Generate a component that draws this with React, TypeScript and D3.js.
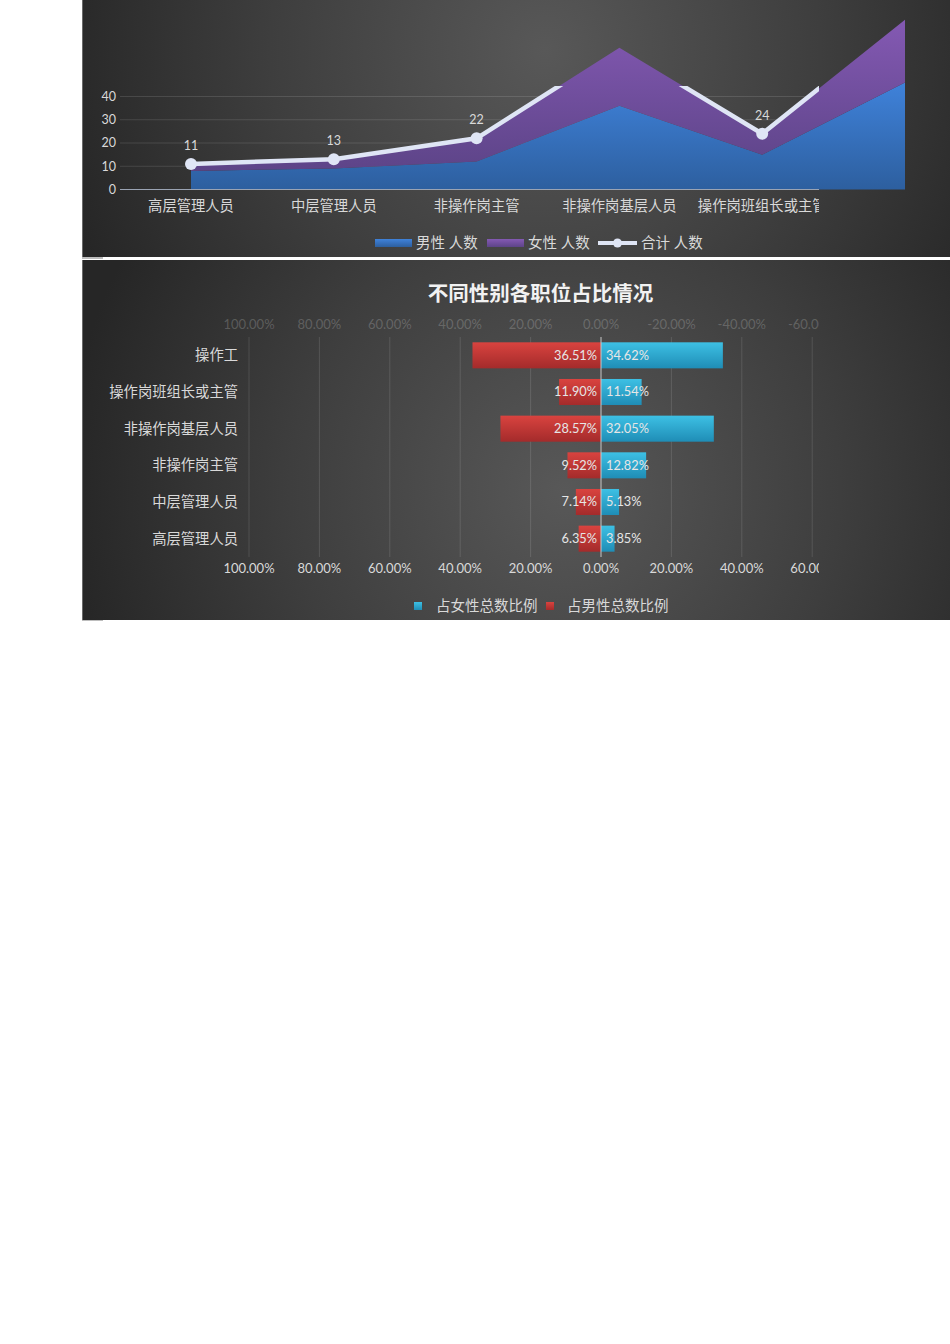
import React, { useEffect, useRef } from "react";
import * as d3 from "d3";

// top chart: head counts by position
const positions = [
  "高层管理人员",
  "中层管理人员",
  "非操作岗主管",
  "非操作岗基层人员",
  "操作岗班组长或主管",
  "操作工",
];
const maleCount = [8, 9, 12, 36, 15, 46];
const femaleCount = [3, 4, 10, 25, 9, 27];
const totalCount = [11, 13, 22, 61, 24, 73];
const countTicks = [0, 10, 20, 30, 40];

// bottom chart: share of each gender's total
const barCategories = [
  "操作工",
  "操作岗班组长或主管",
  "非操作岗基层人员",
  "非操作岗主管",
  "中层管理人员",
  "高层管理人员",
];
const femaleShare = [0.3462, 0.1154, 0.3205, 0.1282, 0.0513, 0.0385];
const maleShare = [0.3651, 0.119, 0.2857, 0.0952, 0.0714, 0.0635];
const shareTicks = [-1, -0.8, -0.6, -0.4, -0.2, 0, 0.2, 0.4, 0.6];

const FONT = "Lato, 'Noto Sans CJK SC', sans-serif";
const LINE = "#dfe5f5";

const App: React.FC = () => {
  const svgRef = useRef<SVGSVGElement>(null);

  useEffect(() => {
    const svg = d3.select(svgRef.current);
    svg.selectAll("*").remove();
    svg.style("font-family", FONT);

    const defs = svg.append("defs");

    const radial = (id: string, cx: number, cy: number, r: number) => {
      const g = defs
        .append("radialGradient")
        .attr("id", id)
        .attr("gradientUnits", "userSpaceOnUse")
        .attr("cx", cx)
        .attr("cy", cy)
        .attr("r", r);
      g.append("stop").attr("offset", 0).attr("stop-color", "#585858");
      g.append("stop").attr("offset", 0.55).attr("stop-color", "#3e3e3e");
      g.append("stop").attr("offset", 1).attr("stop-color", "#262626");
    };
    radial("bg1", 545, 50, 500);
    radial("bg2", 565, 490, 500);

    const linear = (id: string, top: string, bottom: string) => {
      const g = defs
        .append("linearGradient")
        .attr("id", id)
        .attr("x1", 0)
        .attr("y1", 0)
        .attr("x2", 0)
        .attr("y2", 1);
      g.append("stop").attr("offset", 0).attr("stop-color", top);
      g.append("stop").attr("offset", 1).attr("stop-color", bottom);
    };
    linear("maleArea", "#3f82da", "#2d5f9f");
    linear("femaleArea", "#8459b3", "#5d4488");
    linear("redBar", "#d9433f", "#a42b2b");
    linear("blueBar", "#3dc0e4", "#1f8db6");

    defs
      .append("clipPath")
      .attr("id", "clip1")
      .append("rect")
      .attr("x", 82)
      .attr("y", 86)
      .attr("width", 737)
      .attr("height", 171);
    defs
      .append("clipPath")
      .attr("id", "clip2")
      .append("rect")
      .attr("x", 82)
      .attr("y", 260)
      .attr("width", 737)
      .attr("height", 360);

    // panels
    svg.append("rect").attr("x", 82).attr("y", 0).attr("width", 868).attr("height", 257).attr("fill", "url(#bg1)");
    svg.append("rect").attr("x", 82).attr("y", 260).attr("width", 868).attr("height", 360).attr("fill", "url(#bg2)");
    svg.append("line").attr("x1", 82.5).attr("x2", 82.5).attr("y1", 0).attr("y2", 257).attr("stroke", "#6a6a6a");
    svg.append("line").attr("x1", 82.5).attr("x2", 82.5).attr("y1", 260).attr("y2", 620).attr("stroke", "#6a6a6a");
    svg.append("rect").attr("x", 82).attr("y", 257).attr("width", 21).attr("height", 2).attr("fill", "#bdbdbd");
    svg.append("rect").attr("x", 82).attr("y", 620).attr("width", 21).attr("height", 1).attr("fill", "#bdbdbd");

    // ---------- top chart ----------
    const x1 = d3.scalePoint<string>().domain(positions).range([191, 905]);
    const y1 = d3.scaleLinear().domain([0, 80]).range([189.5, 3.5]);

    const rows = positions.map((p, i) => ({ p, male: maleCount[i], female: femaleCount[i], total: totalCount[i] }));
    const stacked = d3.stack<any>().keys(["male", "female"])(rows);

    const area = d3
      .area<any>()
      .x((d) => x1(d.data.p) as number)
      .y0((d) => y1(d[0]))
      .y1((d) => y1(d[1]));

    const top = svg.append("g");
    const grid = top.append("g").attr("clip-path", "url(#clip1)");

    grid
      .selectAll("line.grid")
      .data(countTicks.filter((t) => t > 0))
      .enter()
      .append("line")
      .attr("x1", 120)
      .attr("x2", 905)
      .attr("y1", (d) => y1(d))
      .attr("y2", (d) => y1(d))
      .attr("stroke", "rgba(255,255,255,0.12)");

    top
      .selectAll("path.area")
      .data(stacked)
      .enter()
      .append("path")
      .attr("d", area as any)
      .attr("fill", (_, i) => (i === 0 ? "url(#maleArea)" : "url(#femaleArea)"));

    const over = top.append("g").attr("clip-path", "url(#clip1)");

    over
      .append("line")
      .attr("x1", 120)
      .attr("x2", 905)
      .attr("y1", y1(0))
      .attr("y2", y1(0))
      .attr("stroke", "#9aa3b3")
      .attr("stroke-width", 1);

    top
      .selectAll("text.ytick")
      .data(countTicks)
      .enter()
      .append("text")
      .attr("x", 116)
      .attr("y", (d) => y1(d))
      .attr("dy", "0.35em")
      .attr("text-anchor", "end")
      .attr("font-size", 12.5)
      .attr("fill", "#d9d9d9")
      .text((d) => d);

    const line = d3
      .line<any>()
      .x((d) => x1(d.p) as number)
      .y((d) => y1(d.total));

    over
      .append("path")
      .attr("d", line(rows))
      .attr("fill", "none")
      .attr("stroke", LINE)
      .attr("stroke-width", 4.5);

    over
      .selectAll("circle.pt")
      .data(rows)
      .enter()
      .append("circle")
      .attr("cx", (d) => x1(d.p) as number)
      .attr("cy", (d) => y1(d.total))
      .attr("r", 6)
      .attr("fill", LINE);

    // labels above the clip edge are hidden in the source, so only the visible ones
    top
      .selectAll("text.val")
      .data(rows.filter((d) => y1(d.total) - 20 > 86))
      .enter()
      .append("text")
      .attr("x", (d) => x1(d.p) as number)
      .attr("y", (d) => y1(d.total) - 14)
      .attr("text-anchor", "middle")
      .attr("font-size", 12.5)
      .attr("fill", "#d9d9d9")
      .text((d) => d.total);

    over
      .selectAll("text.cat")
      .data(positions)
      .enter()
      .append("text")
      .attr("x", (d) => x1(d) as number)
      .attr("y", 206)
      .attr("dy", "0.35em")
      .attr("text-anchor", "middle")
      .attr("font-size", 14.3)
      .attr("fill", "#d9d9d9")
      .text((d) => d);

    // top legend
    const lg = top.append("g").attr("font-size", 14.5).attr("fill", "#d9d9d9");
    lg.append("rect").attr("x", 375).attr("y", 239).attr("width", 37).attr("height", 8).attr("fill", "url(#maleArea)");
    lg.append("text").attr("x", 416).attr("y", 243).attr("dy", "0.35em").text("男性 人数");
    lg.append("rect").attr("x", 487).attr("y", 239).attr("width", 37).attr("height", 8).attr("fill", "url(#femaleArea)");
    lg.append("text").attr("x", 528).attr("y", 243).attr("dy", "0.35em").text("女性 人数");
    lg.append("line").attr("x1", 598).attr("x2", 637).attr("y1", 243).attr("y2", 243).attr("stroke", LINE).attr("stroke-width", 4);
    lg.append("circle").attr("cx", 617.5).attr("cy", 243).attr("r", 4.5).attr("fill", LINE);
    lg.append("text").attr("x", 641).attr("y", 243).attr("dy", "0.35em").text("合计 人数");

    // ---------- bottom chart ----------
    const bottom = svg.append("g");
    bottom
      .append("text")
      .attr("x", 540.5)
      .attr("y", 294)
      .attr("dy", "0.35em")
      .attr("text-anchor", "middle")
      .attr("font-size", 20.5)
      .attr("font-weight", "bold")
      .attr("fill", "#f2f2f2")
      .text("不同性别各职位占比情况");

    const xb = d3.scaleLinear().domain([-1, 1]).range([249, 953]);
    const yb = d3
      .scaleBand<string>()
      .domain(barCategories)
      .range([337, 557])
      .paddingInner(0.29)
      .paddingOuter(0.145);

    const bclip = bottom.append("g").attr("clip-path", "url(#clip2)");
    const pct = (v: number) => (v < 0 ? "-" : "") + d3.format(".2%")(Math.abs(v));

    bclip
      .selectAll("line.vgrid")
      .data(shareTicks.filter((t) => t !== 0))
      .enter()
      .append("line")
      .attr("x1", (d) => xb(d))
      .attr("x2", (d) => xb(d))
      .attr("y1", 337)
      .attr("y2", 557)
      .attr("stroke", "rgba(255,255,255,0.12)");

    // top (secondary, reversed) axis labels, dim
    bclip
      .selectAll("text.xtop")
      .data(shareTicks)
      .enter()
      .append("text")
      .attr("x", (d) => xb(d))
      .attr("y", 324)
      .attr("dy", "0.35em")
      .attr("text-anchor", "middle")
      .attr("font-size", 13)
      .attr("fill", "rgba(255,255,255,0.2)")
      .text((d) => pct(d === 0 ? 0 : -d));

    bclip
      .selectAll("text.xbot")
      .data(shareTicks)
      .enter()
      .append("text")
      .attr("x", (d) => xb(d))
      .attr("y", 568)
      .attr("dy", "0.35em")
      .attr("text-anchor", "middle")
      .attr("font-size", 13)
      .attr("fill", "#d9d9d9")
      .text((d) => pct(Math.abs(d)));

    const bars = barCategories.map((c, i) => ({ c, f: femaleShare[i], m: maleShare[i] }));

    bottom
      .selectAll("rect.male")
      .data(bars)
      .enter()
      .append("rect")
      .attr("x", (d) => xb(-d.m))
      .attr("y", (d) => yb(d.c) as number)
      .attr("width", (d) => xb(0) - xb(-d.m))
      .attr("height", yb.bandwidth())
      .attr("fill", "url(#redBar)");

    bottom
      .selectAll("rect.female")
      .data(bars)
      .enter()
      .append("rect")
      .attr("x", xb(0))
      .attr("y", (d) => yb(d.c) as number)
      .attr("width", (d) => xb(d.f) - xb(0))
      .attr("height", yb.bandwidth())
      .attr("fill", "url(#blueBar)");

    bottom
      .append("line")
      .attr("x1", xb(0))
      .attr("x2", xb(0))
      .attr("y1", 337)
      .attr("y2", 557)
      .attr("stroke", "#c8c8c8")
      .attr("stroke-width", 1);

    bottom
      .selectAll("text.mlab")
      .data(bars)
      .enter()
      .append("text")
      .attr("x", xb(0) - 4)
      .attr("y", (d) => (yb(d.c) as number) + yb.bandwidth() / 2)
      .attr("dy", "0.35em")
      .attr("text-anchor", "end")
      .attr("font-size", 12.8)
      .attr("fill", "#e6e6e6")
      .text((d) => pct(d.m));

    bottom
      .selectAll("text.flab")
      .data(bars)
      .enter()
      .append("text")
      .attr("x", xb(0) + 5)
      .attr("y", (d) => (yb(d.c) as number) + yb.bandwidth() / 2)
      .attr("dy", "0.35em")
      .attr("text-anchor", "start")
      .attr("font-size", 12.8)
      .attr("fill", "#e6e6e6")
      .text((d) => pct(d.f));

    bottom
      .selectAll("text.bcat")
      .data(barCategories)
      .enter()
      .append("text")
      .attr("x", 238)
      .attr("y", (d) => (yb(d) as number) + yb.bandwidth() / 2)
      .attr("dy", "0.35em")
      .attr("text-anchor", "end")
      .attr("font-size", 14.3)
      .attr("fill", "#d9d9d9")
      .text((d) => d);

    const bl = bottom.append("g").attr("font-size", 14.5).attr("fill", "#d9d9d9");
    bl.append("rect").attr("x", 414).attr("y", 602).attr("width", 8).attr("height", 8).attr("fill", "url(#blueBar)");
    bl.append("text").attr("x", 436).attr("y", 606).attr("dy", "0.35em").text("占女性总数比例");
    bl.append("rect").attr("x", 546).attr("y", 602).attr("width", 8).attr("height", 8).attr("fill", "url(#redBar)");
    bl.append("text").attr("x", 567).attr("y", 606).attr("dy", "0.35em").text("占男性总数比例");

    return () => {
      svg.selectAll("*").remove();
    };
  }, []);

  return (
    <svg
      ref={svgRef}
      width={950}
      height={1344}
      style={{ position: "absolute", left: 0, top: 0, background: "#ffffff" }}
    />
  );
};

export default App;
